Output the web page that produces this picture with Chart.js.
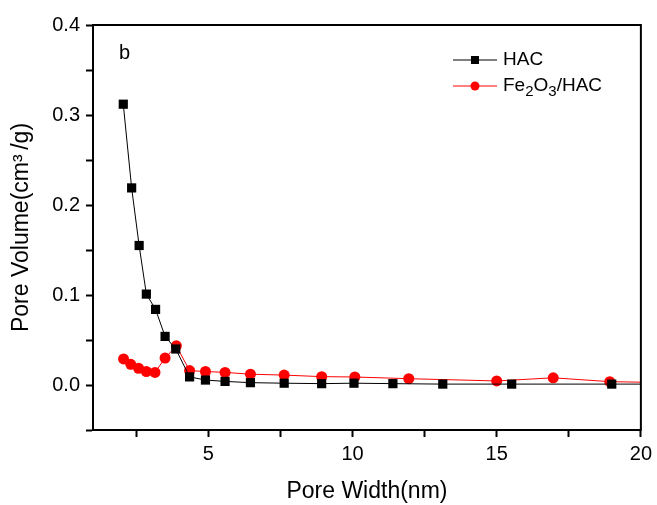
<!DOCTYPE html>
<html>
<head>
<meta charset="utf-8">
<script src="https://cdn.jsdelivr.net/npm/chart.js@4"></script>
<style>
  html, body { margin: 0; padding: 0; background: #fff; }
  #wrap { width: 657px; height: 505px; }
</style>
</head>
<body>
<div id="wrap"><canvas id="poreChart"></canvas></div>
<script>
// pore width (nm) / pore volume (cm3/g)
const hacWidth = [2.05, 2.34, 2.6, 2.85, 3.17, 3.5, 3.87, 4.35, 4.9, 5.58, 6.46, 7.63, 8.93, 10.05, 11.4, 13.13, 15.52, 18.99, 21];
const hacVolume = [0.312, 0.219, 0.155, 0.101, 0.084, 0.054, 0.040, 0.009, 0.0055, 0.004, 0.0026, 0.002, 0.0015, 0.002, 0.0015, 0.001, 0.001, 0.001, 0.001];

const feWidth = [2.06, 2.31, 2.58, 2.85, 3.15, 3.5, 3.89, 4.35, 4.9, 5.58, 6.46, 7.63, 8.93, 10.08, 11.95, 15.0, 16.96, 18.92, 21];
const feVolume = [0.029, 0.023, 0.0186, 0.015, 0.014, 0.030, 0.0435, 0.016, 0.015, 0.014, 0.012, 0.011, 0.0093, 0.0089, 0.007, 0.0045, 0.008, 0.0037, 0.0026];

const xTicks = [2.5, 5, 7.5, 10, 12.5, 15, 17.5, 20];
const xLabels = [5, 10, 15, 20];
const yTicks = [-0.05, 0, 0.05, 0.1, 0.15, 0.2, 0.25, 0.3, 0.35, 0.4];
const yLabels = [0, 0.1, 0.2, 0.3, 0.4];

// legend names split in [text, isSubscript] pieces
const seriesNames = ["HAC", "Fe2O3/HAC"];
const legendParts = [
    [["HAC", false]],
    [["Fe", false], ["2", true], ["O", false], ["3", true], ["/HAC", false]]
];

const FONT = "'Liberation Sans', Arial, sans-serif";

function toPoints(xs, ys) {
    return xs.map((x, i) => ({ x: x, y: ys[i] }));
}

// frame, panel letter and legend drawn by hand
const decorations = {
    id: "decorations",
    afterDraw(chart) {
        const ctx = chart.ctx;
        const a = chart.chartArea;
        ctx.save();
        ctx.strokeStyle = "#000";
        ctx.lineWidth = 2;
        ctx.strokeRect(a.left, a.top, a.right - a.left, a.bottom - a.top);

        ctx.fillStyle = "#000";
        ctx.font = "20px " + FONT;
        ctx.textBaseline = "middle";
        ctx.textAlign = "left";
        ctx.fillText("b", 119, 53);

        chart.data.datasets.forEach((ds, i) => {
            const y = 60 + i * 26;
            ctx.strokeStyle = ds.borderColor;
            ctx.lineWidth = 1;
            ctx.beginPath();
            ctx.moveTo(453, y);
            ctx.lineTo(497, y);
            ctx.stroke();
            ctx.fillStyle = ds.pointBackgroundColor;
            if (ds.pointStyle === "rect") {
                ctx.fillRect(471, y - 4, 8, 8);
            } else {
                ctx.beginPath();
                ctx.arc(475, y, 4.5, 0, Math.PI * 2);
                ctx.fill();
            }
            ctx.fillStyle = "#000";
            let tx = 503;
            legendParts[i].forEach(([txt, sub]) => {
                ctx.font = (sub ? "15px " : "19px ") + FONT;
                ctx.fillText(txt, tx, sub ? y + 6 : y);
                tx += ctx.measureText(txt).width;
            });
        });
        ctx.restore();
    }
};

new Chart(document.getElementById("poreChart"), {
    type: "scatter",
    data: {
        datasets: [
            {
                label: seriesNames[0],
                data: toPoints(hacWidth, hacVolume),
                showLine: true,
                borderColor: "#000000",
                borderWidth: 1,
                pointStyle: "rect",
                pointRadius: 6.5,
                pointBackgroundColor: "#000000",
                pointBorderWidth: 0,
                tension: 0
            },
            {
                label: seriesNames[1],
                data: toPoints(feWidth, feVolume),
                showLine: true,
                borderColor: "#ff0000",
                borderWidth: 1,
                pointStyle: "circle",
                pointRadius: 5.5,
                pointBackgroundColor: "#ff0000",
                pointBorderWidth: 0,
                tension: 0
            }
        ]
    },
    options: {
        responsive: true,
        maintainAspectRatio: false,
        animation: false,
        layout: { padding: { top: 25, right: 13, left: 0, bottom: 0 } },
        plugins: {
            legend: { display: false },
            tooltip: { enabled: false }
        },
        scales: {
            x: {
                type: "linear",
                min: 1,
                max: 20,
                afterBuildTicks: (scale) => { scale.ticks = xTicks.map(v => ({ value: v })); },
                afterFit: (scale) => { scale.height = 75; },
                border: { display: true, color: "#000", width: 2 },
                grid: { drawOnChartArea: false, drawTicks: true, tickLength: 7, tickColor: "#000", tickWidth: 2 },
                ticks: {
                    color: "#000",
                    font: { family: FONT, size: 20 },
                    padding: 5,
                    maxRotation: 0,
                    autoSkip: false,
                    callback: (v) => xLabels.includes(v) ? String(v) : ""
                },
                title: {
                    display: true,
                    text: "Pore Width(nm)",
                    color: "#000",
                    font: { family: FONT, size: 23 },
                    padding: { top: 0, bottom: 0 }
                }
            },
            y: {
                type: "linear",
                min: -0.05,
                max: 0.4,
                afterBuildTicks: (scale) => { scale.ticks = yTicks.map(v => ({ value: v })); },
                afterFit: (scale) => { scale.width = 93; },
                border: { display: true, color: "#000", width: 2 },
                grid: { drawOnChartArea: false, drawTicks: true, tickLength: 7, tickColor: "#000", tickWidth: 2 },
                ticks: {
                    color: "#000",
                    font: { family: FONT, size: 20 },
                    padding: 6,
                    autoSkip: false,
                    callback: (v) => yLabels.some(l => Math.abs(l - v) < 1e-9) ? v.toFixed(1) : ""
                },
                title: {
                    display: true,
                    text: "Pore Volume(cm\u00b3\u2009/g)",
                    color: "#000",
                    font: { family: FONT, size: 23 },
                    padding: { top: 8, bottom: 0 }
                }
            }
        }
    },
    plugins: [decorations]
});
</script>
</body>
</html>
